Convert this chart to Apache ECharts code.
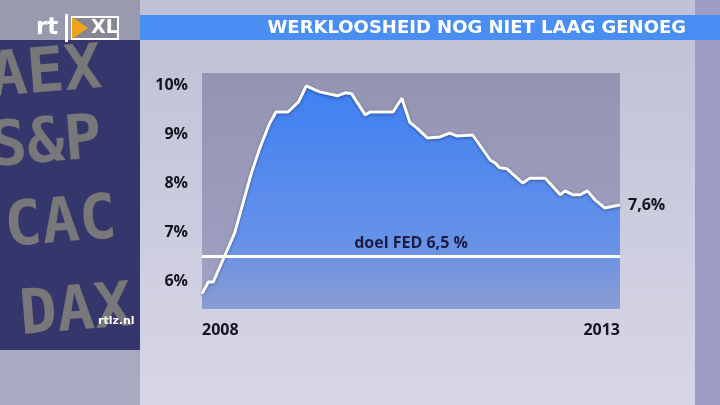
<!DOCTYPE html>
<html>
<head>
<meta charset="utf-8">
<script src="https://cdn.jsdelivr.net/npm/echarts@6/dist/echarts.min.js"></script>
<style>
html,body{margin:0;padding:0;background:#c8c8da;}
#c{width:720px;height:405px;}
</style>
</head>
<body>
<div id="c"></div>
<script>
// Data (decimal years, unemployment %)
const years = [2008.00, 2008.08, 2008.14, 2008.30, 2008.41, 2008.62, 2008.73, 2008.85, 2008.93, 2009.08,
               2009.21, 2009.31, 2009.42, 2009.48, 2009.70, 2009.80, 2009.88, 2010.05, 2010.11, 2010.40,
               2010.51, 2010.61, 2010.70, 2010.83, 2010.99, 2011.11, 2011.20, 2011.40, 2011.62, 2011.68,
               2011.74, 2011.83, 2012.03, 2012.12, 2012.31, 2012.50, 2012.56, 2012.66, 2012.75, 2012.84,
               2012.94, 2013.06, 2013.12, 2013.25];
const rates = [5.74, 5.98, 5.98, 6.57, 6.98, 8.20, 8.73, 9.22, 9.45, 9.45,
               9.65, 9.98, 9.90, 9.86, 9.78, 9.84, 9.82, 9.39, 9.45, 9.45,
               9.73, 9.24, 9.12, 8.92, 8.94, 9.02, 8.96, 8.98, 8.47, 8.41,
               8.31, 8.29, 8.00, 8.10, 8.10, 7.76, 7.84, 7.76, 7.76, 7.84,
               7.65, 7.49, 7.51, 7.55];
const yTicks = [6, 7, 8, 9, 10];
const xTicks = [2008, 2013.25];
const xTickLabels = ['2008', '2013'];
const fedTarget = 6.5;
const fedLabel = 'doel FED 6,5 %';
const endText = '7,6%';
const title = 'WERKLOOSHEID NOG NIET LAAG GENOEG';

const seriesData = years.map((y, i) => [y, rates[i]]);
const chart = echarts.init(document.getElementById('c'), null, {renderer: 'canvas'});
const G = echarts.graphic;

const ledText = (txt, x, y) => ({
  type: 'text', x: x, y: y, rotation: 0.08, z: -5,
  style: { text: txt, fill: 'rgba(214,210,140,0.42)', font: 'bold 62px "DejaVu Sans Mono"',
           textVerticalAlign: 'middle' }
});

chart.setOption({
  animation: false,
  backgroundColor: new G.LinearGradient(0, 0, 0, 1, [
    {offset: 0, color: '#c0c0d6'}, {offset: 1, color: '#d6d6e6'}]),
  graphic: [
    // left LED board
    {type: 'rect', shape: {x: 0, y: 0, width: 140, height: 405}, style: {fill: '#9a9aae'}, z: -10},
    {type: 'rect', shape: {x: 0, y: 40, width: 140, height: 310}, style: {fill: '#35366b'}, z: -9},
    {type: 'rect', shape: {x: 0, y: 350, width: 140, height: 55}, style: {fill: '#a9a9c2'}, z: -9},
    ledText('AEX', -10, 80),
    ledText('S&P', -10, 150),
    ledText('CAC', 5, 230),
    ledText('DAX', 20, 318),
    // right strip
    {type: 'rect', shape: {x: 695, y: 0, width: 25, height: 405}, style: {fill: '#9d9dc6'}, z: -10},
    // title bar
    {type: 'rect', shape: {x: 140, y: 15, width: 580, height: 25}, style: {fill: '#4a8ef3'}, z: 5},
    {type: 'text', x: 686, y: 28, z: 6,
     style: {text: title, fill: '#ffffff', font: 'bold 18px "DejaVu Sans"', textAlign: 'right', textVerticalAlign: 'middle'}},
    // logo
    {type: 'text', x: 36, y: 28, z: 6,
     style: {text: 'rt', fill: '#ffffff', font: 'bold 23px "DejaVu Sans"', textVerticalAlign: 'middle'}},
    {type: 'rect', shape: {x: 65, y: 14, width: 3, height: 28}, style: {fill: '#ffffff'}, z: 6},
    {type: 'rect', shape: {x: 72, y: 17, width: 46, height: 22}, style: {fill: 'rgba(120,120,130,0.6)', stroke: '#ffffff', lineWidth: 2}, z: 6},
    {type: 'polygon', shape: {points: [[72, 17], [88, 28], [72, 39]]}, style: {fill: '#f2a31c'}, z: 7},
    {type: 'text', x: 91, y: 28, z: 7,
     style: {text: 'XL', fill: '#ffffff', font: 'bold 19px "DejaVu Sans"', textVerticalAlign: 'middle'}},
    // site
    {type: 'text', x: 98, y: 321, z: 6,
     style: {text: 'rtlz.nl', fill: '#ffffff', font: 'bold 11px "DejaVu Sans"', textVerticalAlign: 'middle'}}
  ],
  grid: {
    left: 202, top: 73, right: 100, bottom: 96, show: true, borderWidth: 0,
    backgroundColor: new G.LinearGradient(0, 0, 0, 1, [
      {offset: 0, color: '#9494b2'}, {offset: 1, color: '#a0a2c4'}])
  },
  xAxis: {
    type: 'value', min: 2008, max: 2013.25,
    axisLine: {show: false}, axisTick: {show: false}, splitLine: {show: false},
    axisLabel: {
      customValues: xTicks,
      formatter: v => xTickLabels[xTicks.indexOf(v)] || '',
      alignMinLabel: 'left', alignMaxLabel: 'right',
      color: '#15151f', fontWeight: 'bold', fontSize: 16, fontFamily: 'Open Sans', margin: 13
    }
  },
  yAxis: {
    type: 'value', min: 5.43, max: 10.245,
    axisLine: {show: false}, axisTick: {show: false}, splitLine: {show: false},
    axisLabel: {
      customValues: yTicks,
      formatter: v => v + '%',
      color: '#15151f', fontWeight: 'bold', fontSize: 16, fontFamily: 'Open Sans', margin: 14
    }
  },
  series: [{
    type: 'line',
    data: seriesData,
    symbol: 'none',
    lineStyle: {color: '#ffffff', width: 3, shadowColor: 'rgba(20,20,60,0.45)', shadowBlur: 3, shadowOffsetY: 1},
    areaStyle: {
      opacity: 1,
      color: new G.LinearGradient(0, 0, 0, 1, [
        {offset: 0, color: '#3f80f2'}, {offset: 0.7, color: '#6692e8'}, {offset: 1, color: '#8b9cd2'}])
    },
    endLabel: {
      show: true, formatter: endText, distance: 8,
      color: '#15151f', fontWeight: 'bold', fontSize: 16, fontFamily: 'Open Sans'
    },
    markLine: {
      silent: true, symbol: 'none', animation: false,
      lineStyle: {color: '#ffffff', width: 3, type: 'solid'},
      label: {
        show: true, position: 'middle', formatter: fedLabel, distance: 5,
        color: '#1b1c42', fontWeight: 'bold', fontSize: 16, fontFamily: 'Open Sans'
      },
      data: [{yAxis: fedTarget}]
    }
  }]
});
</script>
</body>
</html>
